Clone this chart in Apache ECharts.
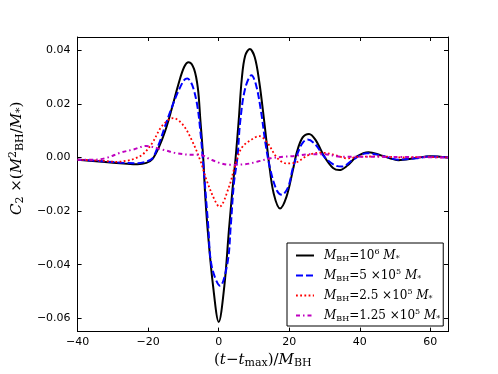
<!DOCTYPE html>
<html>
<head>
<meta charset="utf-8">
<title>C2 waveform</title>
<script src="https://cdn.jsdelivr.net/npm/echarts@6/dist/echarts.min.js"></script>
<style>
    html, body { margin: 0; padding: 0; background: #fff; }
    .chart { width: 498px; height: 374px; }
</style>
</head>
<body>
<div class="chart"></div>
<script>
// x axis ticks
var xTicks = [-40, -20, 0, 20, 40, 60];

// M_BH = 1e6 M*
var tA = [-40, -33, -27, -23, -20.5, -18.8, -17, -15.2, -13.4, -11.5, -9.8, -8.5, -7, -5.9, -5.2, -4.4, -3.8, -3, -1.6, 0, 1.6, 2.9, 3.9, 4.8, 5.65, 6.55, 7.5, 8.8, 10.2, 11.5, 12.9, 14.3, 15.6, 17.4, 19.2, 21, 22.2, 23.8, 25.6, 27.4, 30.1, 32.4, 34.2, 36.4, 39.2, 42.5, 46, 51, 55.5, 60, 65];
var cA = [-0.0008, -0.0016, -0.0022, -0.0025, -0.0020, -0.0006, 0.0037, 0.0098, 0.0178, 0.0270, 0.0338, 0.0356, 0.0331, 0.0258, 0.0140, 0.0000, -0.0147, -0.0290, -0.0479, -0.0614, -0.0479, -0.0270, -0.0120, 0.0000, 0.0135, 0.0295, 0.0380, 0.0405, 0.0375, 0.0282, 0.0135, -0.0025, -0.0135, -0.0190, -0.0147, -0.0049, 0.0022, 0.0075, 0.0088, 0.0067, 0.0000, -0.0039, -0.0047, -0.0031, 0.0004, 0.0020, 0.0008, -0.0010, -0.0003, 0.0005, 0.0000];

// M_BH = 5e5 M*
var tB = [-40, -33, -27, -23, -20.5, -18.8, -17, -15.2, -13.4, -11.5, -9.8, -8.9, -7.5, -6.1, -5.2, -4.3, -3, -2, 0.4, 2.5, 3.4, 4.3, 5.3, 6.1, 7.5, 9.3, 10.6, 12, 13.3, 14.7, 16.5, 17.9, 19.7, 21, 22.5, 23.8, 25.2, 27.4, 30.1, 33.3, 35, 38.3, 42, 46, 51, 56, 60, 65];
var cB = [-0.0008, -0.0014, -0.0020, -0.0021, -0.0015, -0.0003, 0.0049, 0.0117, 0.0184, 0.0246, 0.0289, 0.0295, 0.0270, 0.0196, 0.0098, -0.0037, -0.0250, -0.0405, -0.0479, -0.0393, -0.0258, -0.0098, 0.0000, 0.0135, 0.0258, 0.0307, 0.0270, 0.0172, 0.0049, -0.0049, -0.0123, -0.0139, -0.0110, -0.0040, 0.0020, 0.0055, 0.0067, 0.0049, 0.0000, -0.0031, -0.0034, -0.0006, 0.0016, 0.0008, -0.0008, -0.0003, 0.0004, 0.0000];

// M_BH = 2.5e5 M*
var tC = [-40, -33, -29, -26, -24, -21.5, -18.8, -16.1, -12.9, -10.2, -7.5, -5.2, -3.4, -1.1, 0.2, 2.9, 4.75, 6.55, 9.3, 11.5, 13.8, 16.5, 19.2, 21.5, 25.6, 29.2, 32.8, 36.4, 40, 46, 52, 58, 65];
var cC = [-0.0008, -0.0012, -0.0016, -0.0012, -0.0005, 0.0012, 0.0055, 0.0117, 0.0147, 0.0123, 0.0061, -0.0012, -0.0086, -0.0160, -0.0184, -0.0110, -0.0025, 0.0037, 0.0067, 0.0080, 0.0055, 0.0000, -0.0022, -0.0020, 0.0010, 0.0018, 0.0010, -0.0003, 0.0003, 0.0004, 0.0000, 0.0002, 0.0000];

// M_BH = 1.25e5 M*
var tD = [-40, -35, -31.5, -27.9, -24.2, -20.6, -16.1, -11.5, -7, -5.2, -2.5, 0.2, 2.9, 7.5, 11.1, 14.7, 18.3, 21, 25.6, 30.1, 34.6, 40, 50, 65];
var cD = [-0.0008, -0.0008, 0.0000, 0.0018, 0.0030, 0.0043, 0.0030, 0.0015, 0.0010, 0.0010, -0.0006, -0.0020, -0.0027, -0.0025, -0.0015, -0.0003, 0.0003, 0.0005, 0.0012, 0.0012, 0.0003, 0.0003, 0.0002, 0.0000];

var seriesNames = ["1e6", "5e5", "2.5e5", "1.25e5"];
var legendLabels = [
    "{g|}{i|M}{sub|BH}{r|=10}{sup|6}{r| }{i|M}{sub|*}",
    "{g|}{i|M}{sub|BH}{r|=5 ×10}{sup|5}{r| }{i|M}{sub|*}",
    "{g|}{i|M}{sub|BH}{r|=2.5 ×10}{sup|5}{r| }{i|M}{sub|*}",
    "{g|}{i|M}{sub|BH}{r|=1.25 ×10}{sup|5}{r| }{i|M}{sub|*}"
];

(function () {
    var myChart = echarts.init(document.querySelector(".chart"));

    function pairs(t, c) {
        return t.map(function (v, i) { return [v, c[i]]; });
    }
    function minus(s) {
        return String(s).replace("-", "\u2212");
    }

    var serif = "DejaVu Serif";
    function mathRich(size) {
        return {
            i: { fontFamily: serif, fontStyle: "italic", fontSize: size, color: "#000", lineHeight: size + 3 },
            r: { fontFamily: serif, fontSize: size, color: "#000", lineHeight: size + 3 },
            sub: { fontFamily: serif, fontSize: Math.round(size * 0.7), color: "#000", verticalAlign: "bottom" },
            sup: { fontFamily: serif, fontSize: Math.round(size * 0.7), color: "#000", verticalAlign: "top" },
            g: { width: 5 }
        };
    }

    var tickStyle = { show: true, inside: true, length: 4, lineStyle: { color: "#000", width: 1 } };
    var lineAxis = { show: true, onZero: false, lineStyle: { color: "#000", width: 1 } };
    var labelFont = { fontFamily: "DejaVu Sans", fontSize: 11, color: "#000" };

    var option = {
        animation: false,
        grid: { left: 62, right: 50, top: 37, bottom: 38, containLabel: false },
        legend: {
            orient: "vertical",
            left: 287,
            top: 243,
            padding: [5, 3, 3, 8],
            itemGap: 5,
            itemWidth: 18,
            itemHeight: 14,
            borderColor: "#000",
            borderWidth: 1,
            backgroundColor: "#fff",
            itemStyle: { opacity: 0 },
            data: seriesNames,
            formatter: function (name) {
                return legendLabels[seriesNames.indexOf(name)];
            },
            textStyle: { rich: mathRich(12) }
        },
        xAxis: [
            {
                type: "value",
                min: xTicks[0],
                max: 65,
                interval: 20,
                name: "{r|(}{i|t}{r|\u2212}{i|t}{sub|max}{r|)/}{i|M}{sub|BH}",
                nameLocation: "middle",
                nameGap: 16,
                nameTextStyle: { rich: mathRich(15) },
                axisLine: lineAxis,
                axisTick: tickStyle,
                axisLabel: Object.assign({ margin: 5, showMaxLabel: false, formatter: minus }, labelFont),
                splitLine: { show: false }
            },
            {
                type: "value",
                position: "top",
                min: xTicks[0],
                max: 65,
                interval: 20,
                axisLine: lineAxis,
                axisTick: tickStyle,
                axisLabel: { show: false },
                splitLine: { show: false }
            }
        ],
        yAxis: [
            {
                type: "value",
                min: -0.065,
                max: 0.045,
                splitNumber: 5,
                name: "{i|C}{sub|2}{r| ×(}{i|M}{sup|2}{sub|BH}{r|/}{i|M}{sub|*}{r|)}",
                nameLocation: "middle",
                nameGap: 36,
                nameTextStyle: { rich: mathRich(15), padding: [0, 0, 0, 52] },
                axisLine: lineAxis,
                axisTick: tickStyle,
                axisLabel: Object.assign({
                    margin: 7,
                    showMinLabel: false,
                    showMaxLabel: false,
                    formatter: function (v) { return minus(v.toFixed(2)); }
                }, labelFont),
                splitLine: { show: false }
            },
            {
                type: "value",
                position: "right",
                min: -0.065,
                max: 0.045,
                splitNumber: 5,
                axisLine: lineAxis,
                axisTick: tickStyle,
                axisLabel: { show: false },
                splitLine: { show: false }
            }
        ],
        series: [
            {
                name: seriesNames[0],
                type: "line",
                data: pairs(tA, cA),
                smooth: 0.35,
                showSymbol: false,
                symbol: "none",
                lineStyle: { color: "#000000", width: 2 },
                itemStyle: { color: "#000000" },
                z: 4
            },
            {
                name: seriesNames[1],
                type: "line",
                data: pairs(tB, cB),
                smooth: 0.35,
                showSymbol: false,
                symbol: "none",
                lineStyle: { color: "#0000ff", width: 2, type: [7, 3] },
                itemStyle: { color: "#0000ff" },
                z: 5
            },
            {
                name: seriesNames[2],
                type: "line",
                data: pairs(tC, cC),
                smooth: 0.35,
                showSymbol: false,
                symbol: "none",
                lineStyle: { color: "#ff0000", width: 1.8, type: [1.8, 2.4] },
                itemStyle: { color: "#ff0000" },
                z: 6
            },
            {
                name: seriesNames[3],
                type: "line",
                data: pairs(tD, cD),
                smooth: 0.35,
                showSymbol: false,
                symbol: "none",
                lineStyle: { color: "#bf00bf", width: 2, type: [4, 3, 1.5, 3] },
                itemStyle: { color: "#bf00bf" },
                z: 7
            }
        ]
    };

    myChart.setOption(option);
    window.addEventListener("resize", function () {
        myChart.resize();
    });
})();
</script>
</body>
</html>
